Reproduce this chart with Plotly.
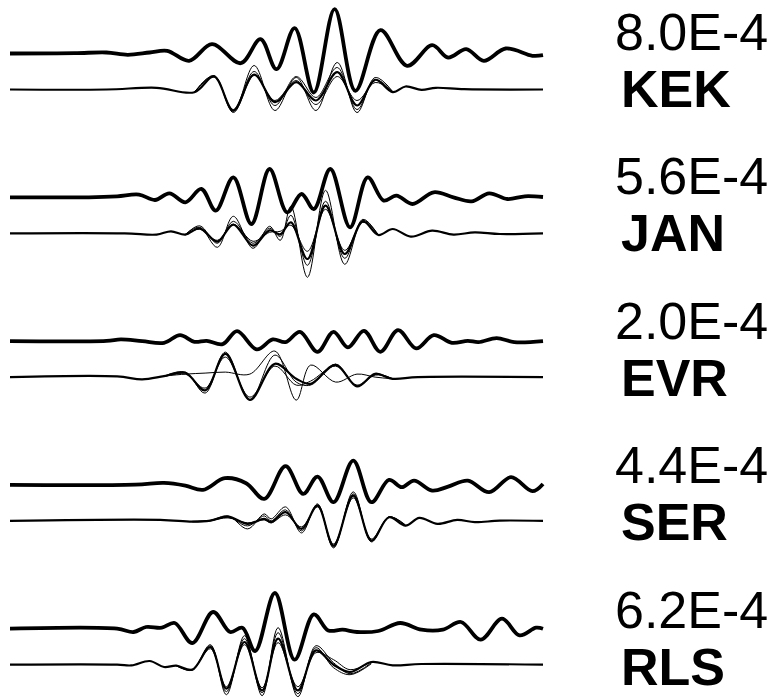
import plotly.graph_objects as go

# ---------------------------------------------------------------
# Waveform fits: for every station the observed trace (thick) and the
# synthetic traces (one reference fit plus several alternative fits).
# Times are in percent of the window, amplitudes in plot units.
# ---------------------------------------------------------------
stations = ["KEK", "JAN", "EVR", "SER", "RLS"]
scales = ["8.0E-4", "5.6E-4", "2.0E-4", "4.4E-4", "6.2E-4"]

# --- KEK ---
kek_obs_t = [0, 12.1, 18.1, 22.1, 26.2, 29.5, 33.6, 37.9, 43.3, 47.0, 50.0, 53.4, 57.0,
             60.9, 64.8, 69.5, 74.5, 79.2, 82.2, 85.6, 88.9, 93.0, 98.0, 100]
kek_obs_a = [0, 0.3, 1, -1.3, 1, 2.7, -7.3, 9.3, -9.7, 14.3, -15.7, 25.3, -39,
             44.3, -37.3, 23.3, -12.3, 8.3, -4, 4.3, -7.3, 5, -2.3, -1.7]
kek_syn_t = [0, 18.1, 27.5, 34.6, 38.3, 41.9, 45.8, 49.7, 53.7, 57.4, 61.4, 65.1, 68.5,
             71.8, 74.2, 77.2, 79.9, 85.2, 100]
kek_syn_a = [0, 0, 1.7, -2.7, 13, -21, 15, -12.7, 7.3, -11, 17.3, -16, 9.7,
             -2.7, 3, -0.3, 1.7, 0.3, 0]
kek_alt_t = [34.6, 38.3, 41.9, 45.8, 49.7, 53.7, 57.4, 61.4, 65.1, 68.5, 71.8]
kek_alt_1 = [-2.5, 14, -22, 24, -21, 12, -21, 27, -23, 12, -2]
kek_alt_2 = [-2.5, 12.5, -20, 18, -16, 13, -8, 22, -20, 10, -3]
kek_alt_3 = [-3, 13.5, -23, 14, -11, 9, -15, 13, -11, 7, -2]

# --- JAN ---
jan_obs_t = [0, 14.8, 20.1, 24.2, 27.2, 29.9, 32.9, 35.9, 38.6, 41.9, 45.3, 48.7, 52.0,
             54.7, 57.0, 60.1, 63.8, 67.1, 70.1, 72.5, 75.5, 79.5, 83.2, 86.6, 89.9,
             93.3, 96.6, 100]
jan_obs_a = [0, 0, 1, 2.7, -2.7, 4, -5, 8.3, -13.3, 20, -26.7, 28.3, -15,
             3.3, -11.7, 28.3, -30, 20, -3.3, 1.7, -6.7, 5, 0, -4, 4,
             -1.7, 1, 0.3]
jan_syn_t = [0, 21.5, 27.5, 30.2, 32.9, 35.6, 38.9, 41.9, 45.6, 48.7, 50.7, 52.7, 55.8,
             59.2, 62.8, 66.2, 69.1, 71.8, 75.2, 79.2, 83.2, 87.2, 91.9, 100]
jan_syn_a = [0, 0, -1.3, 2, -1.3, 5, -8.3, 8.7, -12.3, 3, -1, 11, -25.7,
             27.7, -20.7, 12, -1.7, 4.3, -3.3, 2.7, -1.3, 1, -0.7, 0]
jan_alt_t = [32.9, 35.6, 38.9, 41.9, 45.6, 48.7, 50.7, 52.7, 55.8, 59.2, 62.8, 66.2, 69.1]
jan_alt_1 = [-1, 6, -14, 17, -15, 7, -7, 27, -44, 43, -31, 13, -2]
jan_alt_2 = [-1.5, 7.5, -10, 12, -10, 5, -3, 18, -32, 32, -25, 14, -2]
jan_alt_3 = [-1, 4, -7, 9, -8, 1, 2, 8, -18, 24, -17, 11, -1]

# --- EVR ---
evr_obs_t = [0, 18.1, 20.8, 24.8, 28.9, 31.9, 34.6, 36.9, 39.9, 42.6, 46.3, 49.3, 51.7,
             54.4, 57.7, 60.7, 63.4, 66.4, 69.5, 72.8, 76.2, 79.5, 82.9, 85.9, 87.9,
             91.3, 94.6, 100]
evr_obs_a = [0, 0.3, 1.7, 0, -1.7, 6, -0.7, 0.3, -3, 10, -8.3, 1.7, -1,
             9.3, -10.7, 9.3, -6.3, 10.3, -10.7, 11, -7.3, 6, -1.7, 0.3, -1,
             3, -1, 0]
evr_syn_t = [0, 20.1, 24.8, 28.9, 32.9, 36.6, 40.4, 45.0, 49.7, 53.7, 56.4, 61.1, 65.1,
             68.5, 71.8, 76.5, 100]
evr_syn_a = [0, 0.7, -2.3, 1, 4.3, -13.3, 23.3, -22.7, 13.3, -1.7, -6.7, 12.3, -9.3,
             3.3, -1.7, 0, 0]
evr_alt_t = [28.9, 32.9, 36.6, 40.4, 45.0, 49.7, 53.7, 56.4, 61.1, 65.1, 68.5, 71.8]
evr_alt_1 = [1, 3, 4, 5, 3, 26, -23, 12, -5, 3, 0, -1.7]
evr_alt_2 = [1, 5, -16, 25, -23, 22, -5, -8, 13, -9, 2, -1.7]
evr_alt_3 = [0.5, 3, -11, 20, -20, 11, -8, -4, 11, -8, 3, -1.7]

# --- SER ---
ser_obs_t = [0, 23.5, 28.9, 32.9, 36.2, 40.3, 44.3, 47.7, 51.7, 55.0, 57.7, 60.7, 64.4,
             67.8, 71.1, 73.5, 75.8, 79.2, 82.2, 85.9, 89.9, 94.0, 98.0, 100]
ser_obs_a = [0, 0.3, 2, -0.7, -5, 6.7, 1.7, -14, 18.7, -9, 8.3, -17.3, 24.3,
             -17.3, 5, -2.3, 4.3, -5.7, -1.7, 4.3, -7.3, 7.7, -6.3, 1]
ser_syn_t = [0, 28.2, 34.2, 37.6, 40.9, 44.6, 47.7, 49.0, 51.7, 54.7, 57.7, 60.7, 64.4,
             67.8, 71.1, 74.2, 76.8, 80.2, 83.9, 87.2, 91.9, 100]
ser_syn_a = [0, 1, -0.7, 0.3, 4.3, -3, 2, -1.3, 8.7, -8, 15.3, -24.7, 25.3,
             -19.7, 3.7, -4.7, 3, -3, 1, -1.3, 0.3, 0]
ser_alt_t = [34.2, 37.6, 40.9, 44.6, 47.7, 49.0, 51.7, 54.7, 57.7, 60.7, 64.4, 67.8, 71.1, 74.2]
ser_alt_1 = [-0.5, 0.5, 5, -8, 7, 2, 14, -12, 17, -27, 29, -21, 4, -5]
ser_alt_2 = [-1, 0, 4, -5, 5, 0, 11, -10, 16, -26, 27, -20, 3.5, -4.5]
ser_alt_3 = [-0.5, 0.5, 3, -2, 1, -2, 6, -6, 14, -23, 23, -18, 4, -4]

# --- RLS ---
rls_obs_t = [0, 20.1, 23.2, 25.5, 28.5, 30.9, 34.2, 38.1, 41.3, 43.6, 46.0, 49.7, 53.4,
             57.0, 59.7, 62.4, 65.1, 69.1, 73.2, 77.2, 81.2, 84.6, 88.3, 92.3, 95.6,
             98.7, 100]
rls_obs_a = [0, 0, -3.3, 1.7, 1, 5.7, -14.3, 16.7, -3.3, 1, -22.3, 35.7, -31,
             14.3, -1.7, -1, -3.3, -2.3, 5.7, -1, -1, 6.7, -11, 10, -6.7,
             1, 0]
rls_syn_t = [0, 20.1, 22.8, 26.2, 28.9, 31.2, 34.2, 37.6, 40.6, 44.0, 47.3, 50.3, 54.0,
             57.4, 60.7, 63.8, 67.8, 71.8, 77.2, 100]
rls_syn_a = [0, 0, -0.7, 3.7, -2.3, -1, -5, 17.7, -24, 22.7, -25.7, 26, -25.7,
             14.3, 0, -7.3, 2.7, -0.7, 0.7, 0]
rls_alt_t = [31.2, 34.2, 37.6, 40.6, 44.0, 47.3, 50.3, 54.0, 57.4, 60.7, 63.8, 67.8]
rls_alt_1 = [-1, -5, 20, -30, 29, -31, 37, -32, 19, 2, -9, 2]
rls_alt_2 = [-1, -5.5, 19, -27, 26, -28, 32, -29, 17, -3, -10, 1]
rls_alt_3 = [-1, -4.5, 16, -22, 20, -23, 22, -22, 12, 5, -5, 3]

panels = [
    (kek_obs_t, kek_obs_a, kek_syn_t, kek_syn_a, kek_alt_t, [kek_alt_1, kek_alt_2, kek_alt_3]),
    (jan_obs_t, jan_obs_a, jan_syn_t, jan_syn_a, jan_alt_t, [jan_alt_1, jan_alt_2, jan_alt_3]),
    (evr_obs_t, evr_obs_a, evr_syn_t, evr_syn_a, evr_alt_t, [evr_alt_1, evr_alt_2, evr_alt_3]),
    (ser_obs_t, ser_obs_a, ser_syn_t, ser_syn_a, ser_alt_t, [ser_alt_1, ser_alt_2, ser_alt_3]),
    (rls_obs_t, rls_obs_a, rls_syn_t, rls_syn_a, rls_alt_t, [rls_alt_1, rls_alt_2, rls_alt_3]),
]

# vertical layout of the stacked record section
TOP = 53.5          # baseline of the first observed trace
ROW_STEP = 143.8    # distance between stations
PAIR_GAP = 36.0     # observed -> synthetic baseline
LABEL_STEP = 144.5

fig = go.Figure()

def add_line(t, a, base, width):
    fig.add_trace(go.Scatter(
        x=t, y=[base + v for v in a], mode="lines",
        line=dict(color="black", width=width, shape="spline", smoothing=1.0),
        hoverinfo="skip", showlegend=False))

for i, (ot, oa, st, sa, at, alts) in enumerate(panels):
    obs_base = -(TOP + ROW_STEP * i)
    syn_base = obs_base - PAIR_GAP
    add_line(ot, oa, obs_base, 3.8)
    for alt in alts:
        add_line(at, alt, syn_base, 1.0)
    add_line(st, sa, syn_base, 2.2)

    fig.add_annotation(x=113.2, y=-(31.5 + LABEL_STEP * i), text=scales[i],
                       showarrow=False, xanchor="left", yanchor="middle",
                       font=dict(family="Liberation Sans, Arial", size=52, color="black"))
    fig.add_annotation(x=114.3, y=-(88.5 + LABEL_STEP * i), text="<b>%s</b>" % stations[i],
                       showarrow=False, xanchor="left", yanchor="middle",
                       font=dict(family="Liberation Sans, Arial", size=52, color="black"))

fig.update_layout(
    width=773, height=697, autosize=False,
    margin=dict(l=0, r=0, t=0, b=0),
    paper_bgcolor="white", plot_bgcolor="white",
    xaxis=dict(range=[-1.876, 143.15], visible=False, fixedrange=True),
    yaxis=dict(range=[-697, 0], visible=False, fixedrange=True),
)

fig.write_html("out.html")
